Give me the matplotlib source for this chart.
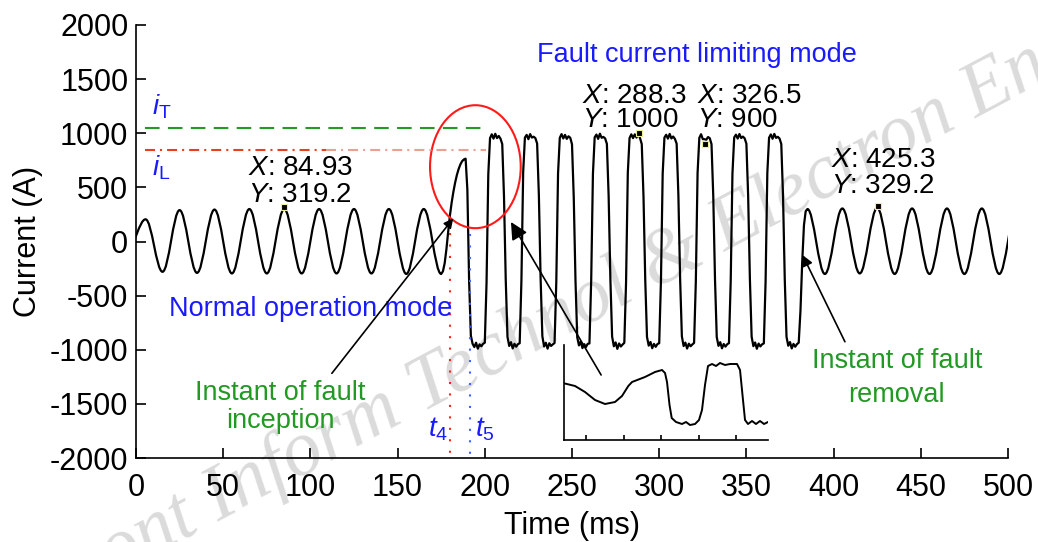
import numpy as np
import matplotlib
matplotlib.use('Agg')
import matplotlib.pyplot as plt
from matplotlib.path import Path
from matplotlib.patches import PathPatch, Ellipse

plt.rcParams['font.family'] = 'Liberation Sans'
plt.rcParams['mathtext.fontset'] = 'custom'
plt.rcParams['mathtext.it'] = 'Liberation Sans:italic'
plt.rcParams['mathtext.rm'] = 'Liberation Sans'
plt.rcParams['axes.unicode_minus'] = False

# normal operation: peaks / troughs of the 50 Hz current (ms, A)
pre_t = [-4.5, 5.5, 15.2, 25, 35, 45, 55, 65, 75, 85, 95, 105, 115, 125, 135, 145, 155, 165, 175]
pre_i = [-60, 205, -280, 290, -290, 295, -295, 300, -295, 300, -295, 300, -295, 300, -295, 300, -300, 300, -300]

# 1 ms samples from fault inception (176 ms) to fault removal (384 ms)
i_onset = [-275, -200, -70, 90, 240, 360, 460, 545, 615, 670, 712, 742, 758, 765,
           480, -360, -870, -945, -975, -935, -990, -950, -968, -945]
i_limit = [
    -935, -380, 620, 955, 990, 950, 995, 955, 975, 950, 900, 420, -350, -880, -965, -930, -988, -945, -972, -948,
    -940, -360, 640, 960, 985, 945, 992, 960, 968, 955, 905, 430, -340, -875, -970, -935, -990, -940, -965, -950,
    -938, -370, 630, 958, 992, 952, 985, 948, 972, 958, 898, 410, -360, -885, -960, -925, -985, -948, -975, -945,
    -942, -365, 625, 962, 988, 948, 996, 958, 966, 952, 902, 425, -345, -878, -968, -932, -992, -942, -970, -952,
    -936, -375, 635, 956, 990, 955, 990, 960, 1000, 955, 900, 415, -355, -882, -962, -928, -986, -946, -973, -947,
    -940, -368, 628, 960, 986, 950, 994, 952, 970, 948, 904, 428, -348, -876, -966, -934, -989, -944, -968, -951,
    -937, -372, 632, 957, 991, 946, 945, 940, 965, 954, 899, 418, -352, -884, -964, -930, -987, -947, -971, -949,
    -939, -366, 626, 961, 987, 951, 993, 956, 969, 953, 903, 422, -346, -879, -967, -933, -991, -943, -969, -950,
    -941, -371, 633, 959, 989, 949, 994, 957, 967, 951, 901, 419, -351, -881, -963, -929, -988, -946, -972, -948,
]
i_recover = [-935, -640, -190, 150, 280]
t_fault = np.arange(176, 385)
i_fault = i_onset + i_limit + i_recover

# after fault removal: peaks / troughs
post_t = [385, 395, 405, 415, 425, 435, 445, 455, 465, 475, 485, 495, 505]
post_i = [300, -300, 305, -295, 310, -300, 305, -300, 305, -300, 305, -300, 305]

# data tips
tip_t = [84.93, 288.3, 326.5, 425.3]
tip_i = [319.2, 1000, 900, 329.2]

# inset (zoomed view, arbitrary units)
ins_x = [-0.587, -0.293, -0.027, 0.24, 0.507, 0.773, 0.96, 1.128, 1.227, 1.573, 1.84, 2.027, 2.107,
         2.16, 2.227, 2.285, 2.4, 2.56, 2.667, 2.773, 2.907, 3.013, 3.093, 3.173, 3.253, 3.36, 3.467,
         3.573, 3.707, 3.84, 4.027, 4.107, 4.173, 4.24, 4.32, 4.427, 4.533, 4.64, 4.747, 4.853]
ins_y = [56.7, 54, 48, 40, 36, 38, 44, 54, 58, 63, 68, 70, 67,
         58, 35, 22, 18, 16, 18, 15, 16, 20, 30, 55, 74, 76, 74,
         77, 75, 76, 76, 70, 45, 20, 16, 19, 16, 19, 16, 18]

iT = 1045
iL = 845
t4 = 180.3
t5 = 191.5


def half_waves(ts, vs):
    verts, codes = [(ts[0], vs[0])], [Path.MOVETO]
    for k in range(1, len(ts)):
        h = 0.3634 * (ts[k] - ts[k - 1])
        verts += [(ts[k - 1] + h, vs[k - 1]), (ts[k] - h, vs[k]), (ts[k], vs[k])]
        codes += [Path.CURVE4] * 3
    return verts, codes


fig = plt.figure(figsize=(10.38, 5.42), dpi=100)
ax = fig.add_axes([136 / 1038, 1 - 458 / 542, 872 / 1038, 433 / 542])
ax.patch.set_visible(False)

fig.text(0.5376, 0.4114, 'Front Inform Technol & Electron Eng', rotation=28, rotation_mode='anchor',
         ha='center', va='center', fontsize=56, family='Liberation Serif', style='italic',
         color='#dbdbdb', zorder=-1)

# current waveform
verts, codes = half_waves(pre_t, pre_i)
for t, i in zip(t_fault, i_fault):
    verts.append((t, i))
    codes.append(Path.LINETO)
v2, c2 = half_waves(post_t, post_i)
c2[0] = Path.LINETO
verts += v2
codes += c2
ax.add_patch(PathPatch(Path(verts, codes), fill=False, ec='k', lw=1.6, joinstyle='round'))

# thresholds
ax.plot([5.2, 201.3], [iT, iT], color='#259b25', lw=1.5, ls=(0, (7, 4)))
ax.plot([5.2, 109], [iL, iL], color='#e8401f', lw=1.5, ls=(0, (4.8, 2.4, 1, 2.4)))
ax.plot([109, 200.5], [iL, iL], color='#eba094', lw=1.5, ls=(0, (4.8, 2.4, 1, 2.4)))
ax.plot([t4, t4], [80, -2000], color='#ff2020', lw=1.5, ls=(0, (1, 4.5)))
ax.plot([t5, t5], [70, -2000], color='#4060ff', lw=1.5, ls=(0, (1, 4.5)))

ax.add_patch(Ellipse((194.6, 691), 52, 1136, fill=False, ec='#ff1a1a', lw=1.5))

ax.plot(tip_t, tip_i, 's', ms=5, mfc='k', mec='#eeee99', mew=0.8, zorder=5)

tip_x = [64.4, 255.9, 321.9, 398.5]
tip_yx = [614, 1279, 1279, 688]
tip_yy = [365, 1058, 1058, 448]
for k in range(4):
    ax.text(tip_x[k], tip_yx[k], '$X$: %g' % tip_t[k], fontsize=20, va='baseline', ha='left')
    ax.text(tip_x[k], tip_yy[k], '$Y$: %g' % tip_i[k], fontsize=20, va='baseline', ha='left')

blue = '#1a1aff'
green = '#229922'
ax.text(9.2, 1169, r'$i_{\mathrm{T}}$', color=blue, fontsize=20, va='baseline')
ax.text(9.2, 614, r'$i_{\mathrm{L}}$', color=blue, fontsize=20, va='baseline')
ax.text(167.4, -1806, r'$t_4$', color=blue, fontsize=20, va='baseline')
ax.text(194.4, -1806, r'$t_5$', color=blue, fontsize=20, va='baseline')
ax.text(321.7, 1658, 'Fault current limiting mode', color=blue, fontsize=19.5, ha='center', va='baseline')
ax.text(100.1, -688, 'Normal operation mode', color=blue, fontsize=19.5, ha='center', va='baseline')
ax.text(82.6, -1464, 'Instant of fault', color=green, fontsize=19.5, ha='center', va='baseline')
ax.text(82.6, -1723, 'inception', color=green, fontsize=19.5, ha='center', va='baseline')
ax.text(436.4, -1169, 'Instant of fault', color=green, fontsize=19.5, ha='center', va='baseline')
ax.text(436.0, -1483, 'removal', color=green, fontsize=19.5, ha='center', va='baseline')

ax.annotate('', xy=(181.9, 214), xytext=(112.3, -1218),
            arrowprops=dict(arrowstyle='-|>', color='k', lw=1.2, mutation_scale=14, shrinkA=0, shrinkB=0))
ax.annotate('', xy=(215.0, 180), xytext=(266.7, -1233),
            arrowprops=dict(arrowstyle='-|>', color='k', lw=1.2, mutation_scale=26, shrinkA=0, shrinkB=0))
ax.annotate('', xy=(382.2, -125), xytext=(406.5, -926),
            arrowprops=dict(arrowstyle='-|>', color='k', lw=1.2, mutation_scale=16, shrinkA=0, shrinkB=0))

ax.set_xlim(0, 500)
ax.set_ylim(-2000, 2000)
ax.set_xticks(np.arange(0, 501, 50))
ax.set_yticks(np.arange(-2000, 2001, 500))
ax.spines['top'].set_visible(False)
ax.spines['right'].set_visible(False)
for s in ['left', 'bottom']:
    ax.spines[s].set_linewidth(1.2)
ax.tick_params(direction='in', length=7, width=1.2, labelsize=22)
ax.tick_params(axis='x', pad=11)
ax.tick_params(axis='y', pad=5.5)
ax.set_xlabel('Time (ms)', fontsize=22)
ax.set_ylabel('Current (A)', fontsize=22)
ax.xaxis.set_label_coords(0.5, -0.122)
ax.yaxis.set_label_coords(-0.107, 0.5)

# inset
ax_in = fig.add_axes([564 / 1038, 1 - 440 / 542, 204 / 1038, 95 / 542])
ax_in.patch.set_visible(False)
ax_in.plot(ins_x, ins_y, color='k', lw=1.4)
ax_in.set_xlim(-0.587, 4.853)
ax_in.set_ylim(0, 95)
ax_in.spines['top'].set_visible(False)
ax_in.spines['right'].set_visible(False)
for s in ['left', 'bottom']:
    ax_in.spines[s].set_linewidth(1.2)
ax_in.set_xticks([0, 1, 2, 3, 4])
ax_in.set_yticks([])
ax_in.tick_params(direction='in', length=3.6, width=1.2, labelbottom=False)

fig.savefig('out.png', dpi=100)
